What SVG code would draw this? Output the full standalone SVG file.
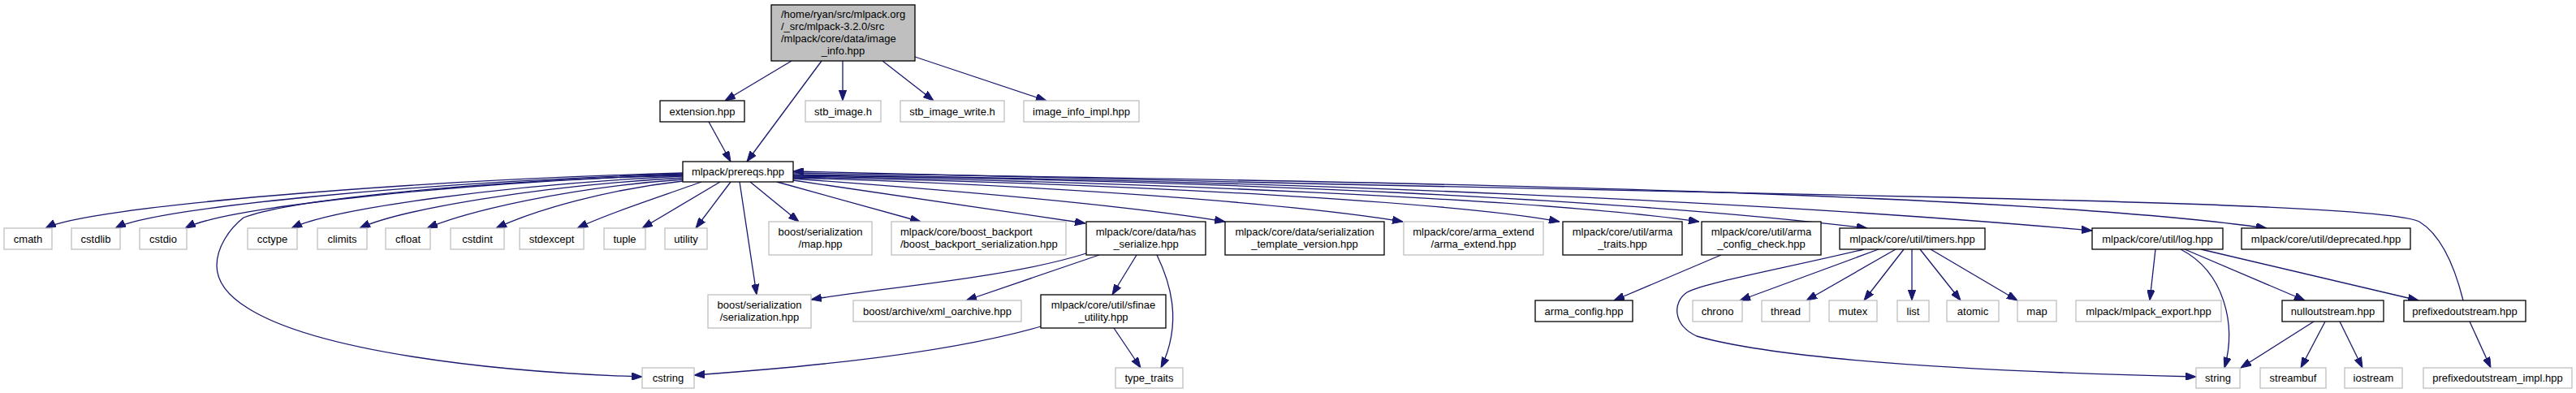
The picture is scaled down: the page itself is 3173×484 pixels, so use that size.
<svg xmlns="http://www.w3.org/2000/svg" width="3173" height="484" viewBox="0 0 3173 484">
<defs>
<marker id="a" markerUnits="userSpaceOnUse" viewBox="0 0 13 9.4" markerWidth="13" markerHeight="9.4" refX="13" refY="4.7" orient="auto">
<path d="M0,0 L13,4.7 L0,9.4 z" fill="#191970" stroke="#191970" stroke-width="1"/>
</marker>
</defs>
<style>
rect.d{fill:#ffffff;stroke:#000000;stroke-width:1.3}
rect.x{fill:#ffffff;stroke:#bfbfbf;stroke-width:1.3}
rect.r{fill:#bfbfbf;stroke:#000000;stroke-width:1.3}
text{font-family:"Liberation Sans",Arial,Helvetica,sans-serif;font-size:13px;fill:#000000;text-anchor:middle}
text.l{text-anchor:start}
#edges path{fill:none;stroke:#191970;stroke-width:1.3;marker-end:url(#a)}
</style>
<rect x="0" y="0" width="3173" height="484" fill="#ffffff"/>
<g id="edges">
<path d="M975,75 L893,124"/>
<path d="M1012,75 L920,199"/>
<path d="M1038,75 L1038,124"/>
<path d="M1087,75 L1150,124"/>
<path d="M1127,70 L1289,124"/>
<path d="M873,150 L900,199"/>
<path d="M841,213 C488,223 106,255 56,281"/>
<path d="M841,214 C526,224 192,255 142,281"/>
<path d="M841,215 C565,225 278,255 228,281"/>
<path d="M841,217 C624,227 409,257 359,281"/>
<path d="M841,219 C662,229 493,258 443,281"/>
<path d="M841,221 C699,231 576,260 526,281"/>
<path d="M841,223 C750,233 660,258 611,281"/>
<path d="M864,224 C820,240 750,262 711,281"/>
<path d="M887,224 L791,281"/>
<path d="M900,224 L857,281"/>
<path d="M841,216 C600,222 360,245 300,268 C282,282 267,305 267,327 C267,349 283,366 306,380 C390,432 600,458 791,464"/>
<path d="M911,224 L932,363"/>
<path d="M924,224 L984,273"/>
<path d="M957,224 L1134,273"/>
<path d="M977,222 L1337,275"/>
<path d="M977,220 C1250,240 1420,258 1509,273"/>
<path d="M977,219 C1350,230 1620,255 1728,273"/>
<path d="M977,218 C1400,226 1800,250 1921,273"/>
<path d="M977,217 C1400,224 1900,245 2093,273"/>
<path d="M977,216 C1500,222 2000,245 2300,281"/>
<path d="M977,215 C1600,222 2200,250 2577,284"/>
<path d="M977,213 C1800,224 2500,240 2792,281"/>
<path d="M3034,370 C3024,330 3008,290 2980,273 C2950,258 2700,250 2400,243 C2000,237 1400,220 977,211"/>
<path d="M1338,312 C1240,343 1080,355 999,369"/>
<path d="M1354,314 L1190,370"/>
<path d="M1400,314 L1370,363"/>
<path d="M1425,314 C1440,345 1458,395 1430,453"/>
<path d="M1282,402 C1150,440 950,455 855,462"/>
<path d="M1372,404 L1405,453"/>
<path d="M2120,314 L1988,370"/>
<path d="M2314,307 L2143,370"/>
<path d="M2335,307 L2225,370"/>
<path d="M2345,307 L2296,370"/>
<path d="M2355,307 L2355,370"/>
<path d="M2365,307 L2415,370"/>
<path d="M2378,307 L2485,370"/>
<path d="M2296,307 C2200,330 2100,348 2078,360 C2060,372 2060,400 2090,414 C2200,445 2450,458 2705,464"/>
<path d="M2655,307 L2648,370"/>
<path d="M2686,307 C2740,335 2755,400 2740,453"/>
<path d="M2691,307 L2839,370"/>
<path d="M2711,307 L2979,370"/>
<path d="M2850,396 L2760,453"/>
<path d="M2864,396 L2834,453"/>
<path d="M2882,396 L2910,453"/>
<path d="M3042,396 L3068,453"/>
</g>
<g id="n0"><rect class="r" x="950" y="6" width="177" height="69"/><text class="l" x="962" y="22">/home/ryan/src/mlpack.org</text><text class="l" x="962" y="37">/_src/mlpack-3.2.0/src</text><text class="l" x="962" y="52">/mlpack/core/data/image</text><text x="1038.5" y="67">_info.hpp</text></g>
<g id="n1"><rect class="d" x="813" y="124" width="104" height="26"/><text x="865" y="141.5">extension.hpp</text></g>
<g id="n2"><rect class="x" x="992" y="124" width="93" height="26"/><text x="1038.5" y="141.5">stb_image.h</text></g>
<g id="n3"><rect class="x" x="1109" y="124" width="128" height="26"/><text x="1173" y="141.5">stb_image_write.h</text></g>
<g id="n4"><rect class="x" x="1261" y="124" width="142" height="26"/><text x="1332" y="141.5">image_info_impl.hpp</text></g>
<g id="n5"><rect class="d" x="841" y="199" width="136" height="25"/><text x="909" y="216">mlpack/prereqs.hpp</text></g>
<g id="n6"><rect class="x" x="5" y="281" width="59" height="26"/><text x="34.5" y="298.5">cmath</text></g>
<g id="n7"><rect class="x" x="88" y="281" width="60" height="26"/><text x="118" y="298.5">cstdlib</text></g>
<g id="n8"><rect class="x" x="172" y="281" width="58" height="26"/><text x="201" y="298.5">cstdio</text></g>
<g id="n9"><rect class="x" x="305" y="281" width="61" height="26"/><text x="335.5" y="298.5">cctype</text></g>
<g id="n10"><rect class="x" x="391" y="281" width="61" height="26"/><text x="421.5" y="298.5">climits</text></g>
<g id="n11"><rect class="x" x="475" y="281" width="55" height="26"/><text x="502.5" y="298.5">cfloat</text></g>
<g id="n12"><rect class="x" x="555" y="281" width="66" height="26"/><text x="588" y="298.5">cstdint</text></g>
<g id="n13"><rect class="x" x="640" y="281" width="79" height="26"/><text x="679.5" y="298.5">stdexcept</text></g>
<g id="n14"><rect class="x" x="744" y="281" width="51" height="26"/><text x="769.5" y="298.5">tuple</text></g>
<g id="n15"><rect class="x" x="819" y="281" width="52" height="26"/><text x="845" y="298.5">utility</text></g>
<g id="n16"><rect class="x" x="947" y="273" width="127" height="41"/><text x="1010.5" y="290">boost/serialization</text><text x="1010.5" y="305">/map.hpp</text></g>
<g id="n17"><rect class="x" x="1098" y="273" width="215" height="41"/><text class="l" x="1109" y="290">mlpack/core/boost_backport</text><text class="l" x="1109" y="305">/boost_backport_serialization.hpp</text></g>
<g id="n18"><rect class="d" x="1338" y="273" width="147" height="41"/><text x="1411.5" y="290">mlpack/core/data/has</text><text x="1411.5" y="305">_serialize.hpp</text></g>
<g id="n19"><rect class="d" x="1509" y="273" width="196" height="41"/><text x="1607" y="290">mlpack/core/data/serialization</text><text x="1607" y="305">_template_version.hpp</text></g>
<g id="n20"><rect class="x" x="1729" y="273" width="172" height="41"/><text x="1815" y="290">mlpack/core/arma_extend</text><text x="1815" y="305">/arma_extend.hpp</text></g>
<g id="n21"><rect class="d" x="1925" y="273" width="147" height="41"/><text x="1998.5" y="290">mlpack/core/util/arma</text><text x="1998.5" y="305">_traits.hpp</text></g>
<g id="n22"><rect class="d" x="2096" y="273" width="147" height="41"/><text x="2169.5" y="290">mlpack/core/util/arma</text><text x="2169.5" y="305">_config_check.hpp</text></g>
<g id="n23"><rect class="d" x="2266" y="281" width="179" height="26"/><text x="2355.5" y="298.5">mlpack/core/util/timers.hpp</text></g>
<g id="n24"><rect class="d" x="2577" y="281" width="161" height="26"/><text x="2657.5" y="298.5">mlpack/core/util/log.hpp</text></g>
<g id="n25"><rect class="d" x="2761" y="281" width="208" height="26"/><text x="2865" y="298.5">mlpack/core/util/deprecated.hpp</text></g>
<g id="n26"><rect class="x" x="872" y="363" width="127" height="41"/><text x="935.5" y="380">boost/serialization</text><text x="935.5" y="395">/serialization.hpp</text></g>
<g id="n27"><rect class="x" x="1051" y="370" width="207" height="26"/><text x="1154.5" y="387.5">boost/archive/xml_oarchive.hpp</text></g>
<g id="n28"><rect class="d" x="1282" y="363" width="154" height="41"/><text x="1359" y="380">mlpack/core/util/sfinae</text><text x="1359" y="395">_utility.hpp</text></g>
<g id="n29"><rect class="d" x="1891" y="370" width="120" height="26"/><text x="1951" y="387.5">arma_config.hpp</text></g>
<g id="n30"><rect class="x" x="2085" y="370" width="61" height="26"/><text x="2115.5" y="387.5">chrono</text></g>
<g id="n31"><rect class="x" x="2170" y="370" width="59" height="26"/><text x="2199.5" y="387.5">thread</text></g>
<g id="n32"><rect class="x" x="2253" y="370" width="59" height="26"/><text x="2282.5" y="387.5">mutex</text></g>
<g id="n33"><rect class="x" x="2337" y="370" width="39" height="26"/><text x="2356.5" y="387.5">list</text></g>
<g id="n34"><rect class="x" x="2398" y="370" width="64" height="26"/><text x="2430" y="387.5">atomic</text></g>
<g id="n35"><rect class="x" x="2485" y="370" width="48" height="26"/><text x="2509" y="387.5">map</text></g>
<g id="n36"><rect class="x" x="2557" y="370" width="179" height="26"/><text x="2646.5" y="387.5">mlpack/mlpack_export.hpp</text></g>
<g id="n37"><rect class="d" x="2811" y="370" width="125" height="26"/><text x="2873.5" y="387.5">nulloutstream.hpp</text></g>
<g id="n38"><rect class="d" x="2961" y="370" width="150" height="26"/><text x="3036" y="387.5">prefixedoutstream.hpp</text></g>
<g id="n39"><rect class="x" x="791" y="453" width="64" height="25"/><text x="823" y="470">cstring</text></g>
<g id="n40"><rect class="x" x="1374" y="453" width="83" height="25"/><text x="1415.5" y="470">type_traits</text></g>
<g id="n41"><rect class="x" x="2705" y="453" width="54" height="25"/><text x="2732" y="470">string</text></g>
<g id="n42"><rect class="x" x="2784" y="453" width="81" height="25"/><text x="2824.5" y="470">streambuf</text></g>
<g id="n43"><rect class="x" x="2888" y="453" width="71" height="25"/><text x="2923.5" y="470">iostream</text></g>
<g id="n44"><rect class="x" x="2985" y="453" width="183" height="25"/><text x="3076.5" y="470">prefixedoutstream_impl.hpp</text></g>
</svg>
